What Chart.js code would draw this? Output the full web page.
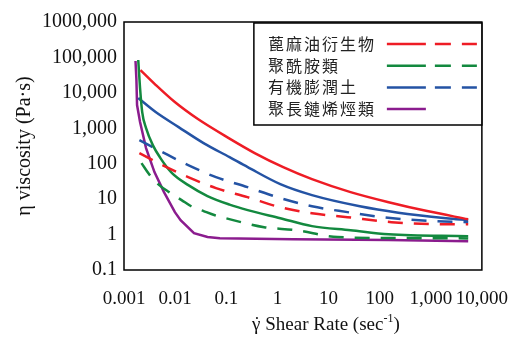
<!DOCTYPE html>
<html>
<head>
<meta charset="utf-8">
<script src="https://cdn.jsdelivr.net/npm/chart.js@4.4.1/dist/chart.umd.min.js"></script>
<style>
  html, body { margin: 0; padding: 0; background: #fff; }
  canvas { display: block; }
</style>
</head>
<body>
<canvas id="chart" width="526" height="339"></canvas>
<script>
// series names (legend) and colours
const seriesNames = ["蓖麻油衍生物", "聚酰胺類", "有機膨潤土", "聚長鏈烯烴類"];
const seriesColors = ["#EE1C25", "#13893F", "#2453A4", "#8B1C8E"];

// shear rate (x) and viscosity (y)
const redSolidX = [0.0021, 0.0042, 0.00986, 0.0279, 0.116, 0.36, 1.3, 4.75, 27, 150, 850, 5400];
const redSolidY = [44000, 16600, 5500, 1820, 512, 200, 80, 36.7, 15.8, 8.2, 4.6, 2.7];
const redDashX = [0.002, 0.0056, 0.018, 0.063, 0.26, 1.14, 4.75, 23.5, 171, 1770, 5400];
const redDashY = [199, 91, 41.8, 20.5, 11.4, 5.9, 4.0, 3.1, 2.24, 1.97, 1.97];

const greenSolidX = [0.0019, 0.00206, 0.00227, 0.0027, 0.00366, 0.00516, 0.0087, 0.0181, 0.0429, 0.116, 0.263, 1.14, 4.75, 27, 150, 5400];
const greenSolidY = [84500, 13700, 2870, 1010, 335, 144, 54, 24.8, 12.2, 7.0, 4.9, 2.9, 1.73, 1.33, 1.02, 0.9];
const greenDashX = [0.0022, 0.0032, 0.0049, 0.0076, 0.0134, 0.0206, 0.036, 0.06, 0.0975, 0.55, 2.3, 15, 150, 5400];
const greenDashY = [104, 47.6, 24.8, 15.8, 9.4, 6.3, 4.6, 3.5, 2.9, 1.62, 1.33, 0.85, 0.8, 0.78];

const blueSolidX = [0.0019, 0.00416, 0.0117, 0.036, 0.116, 0.263, 1.14, 4.75, 41, 232, 2000, 5400];
const blueSolidY = [7130, 2870, 1080, 382, 153, 80, 26.5, 13.0, 6.3, 4.16, 2.9, 2.55];
const blueDashX = [0.002, 0.0056, 0.018, 0.063, 0.26, 1.14, 4.75, 23.5, 111, 1150, 5400];
const blueDashY = [464, 213, 91, 41.8, 21.8, 10.7, 6.3, 4.3, 3.1, 2.4, 2.24];

const purpleX = [0.00168, 0.00175, 0.0018, 0.00206, 0.0027, 0.00394, 0.00606, 0.0099, 0.0128, 0.0234, 0.043, 0.075, 2.0, 150, 5400];
const purpleY = [79000, 23000, 4520, 1500, 276, 58, 15.8, 4.3, 2.55, 1.1, 0.85, 0.79, 0.74, 0.70, 0.65];

// axis ticks
const xTickValues = [0.001, 0.01, 0.1, 1, 10, 100, 1000, 10000];
const xTickLabels = ["0.001", "0.01", "0.1", "1", "10", "100", "1,000", "10,000"];
const yTickValues = [0.1, 1, 10, 100, 1000, 10000, 100000, 1000000];
const yTickLabels = ["0.1", "1", "10", "100", "1,000", "10,000", "100,000", "1000,000"];

const pts = (xs, ys) => xs.map((x, i) => ({ x: x, y: ys[i] }));

function line(data, color, dashed, smooth) {
  return {
    data: data,
    borderColor: color,
    borderWidth: 2.5,
    borderDash: dashed ? [15, 11] : [],
    pointRadius: 0,
    fill: false,
    tension: 0,
    cubicInterpolationMode: smooth ? 'monotone' : 'default'
  };
}

const serif = '"Liberation Serif", "Times New Roman", serif';

const extras = {
  id: 'extras',
  afterDatasetsDraw(chart) {
    const { ctx, chartArea: a } = chart;
    ctx.save();
    // frame round the plot
    ctx.strokeStyle = '#000';
    ctx.lineWidth = 1.5;
    ctx.setLineDash([]);
    ctx.strokeRect(a.left, a.top, a.right - a.left, a.bottom - a.top);

    // legend box, top right
    const bw = 228, bh = 102;
    const bx = a.right - bw, by = a.top + 1;
    ctx.fillStyle = '#fff';
    ctx.fillRect(bx, by, bw, bh);
    ctx.strokeRect(bx, by, bw, bh);
    ctx.font = '16px "Noto Sans CJK TC"';
    ctx.letterSpacing = '2px';
    ctx.textBaseline = 'middle';
    ctx.textAlign = 'left';
    seriesNames.forEach((name, i) => {
      const y = by + 21 + i * 21.7;
      ctx.fillStyle = '#222';
      ctx.fillText(name, bx + 14, y);
      ctx.strokeStyle = seriesColors[i];
      ctx.lineWidth = 2.5;
      ctx.setLineDash([]);
      ctx.beginPath(); ctx.moveTo(bx + 133, y); ctx.lineTo(bx + 172, y); ctx.stroke();
      if (i < 3) {
        ctx.setLineDash([16, 11]);
        ctx.beginPath(); ctx.moveTo(bx + 181, y); ctx.lineTo(bx + 223, y); ctx.stroke();
      }
    });
    ctx.letterSpacing = '0px';
    ctx.setLineDash([]);

    // x axis title: gamma with a dot over it, and a superscript -1
    const g = 'γ', main = ' Shear Rate (sec', sup = '-1', end = ')';
    ctx.fillStyle = '#111';
    ctx.textBaseline = 'alphabetic';
    ctx.textAlign = 'left';
    ctx.font = '19px ' + serif;
    const wg = ctx.measureText(g).width;
    const w1 = ctx.measureText(main).width, w3 = ctx.measureText(end).width;
    ctx.font = '12px ' + serif;
    const w2 = ctx.measureText(sup).width;
    const x = (a.left + a.right) / 2 + 23 - (wg + w1 + w2 + w3) / 2;
    const base = a.bottom + 60;
    ctx.font = '19px ' + serif;
    ctx.fillText(g, x, base);
    ctx.textAlign = 'center';
    ctx.fillText('˙', x + wg / 2 + 0.5, base);
    ctx.textAlign = 'left';
    ctx.fillText(main, x + wg, base);
    ctx.font = '12px ' + serif;
    ctx.fillText(sup, x + wg + w1, base - 8);
    ctx.font = '19px ' + serif;
    ctx.fillText(end, x + wg + w1 + w2, base);
    ctx.restore();
  }
};

new Chart(document.getElementById('chart'), {
  type: 'line',
  data: {
    datasets: [
      line(pts(redSolidX, redSolidY), seriesColors[0], false, true),
      line(pts(redDashX, redDashY), seriesColors[0], true, true),
      line(pts(greenSolidX, greenSolidY), seriesColors[1], false, true),
      line(pts(greenDashX, greenDashY), seriesColors[1], true, true),
      line(pts(blueSolidX, blueSolidY), seriesColors[2], false, true),
      line(pts(blueDashX, blueDashY), seriesColors[2], true, true),
      line(pts(purpleX, purpleY), seriesColors[3], false, false)
    ]
  },
  options: {
    responsive: false,
    animation: false,
    devicePixelRatio: 1,
    layout: { padding: { left: 0, top: 22, right: 29, bottom: 0 } },
    plugins: { legend: { display: false }, tooltip: { enabled: false } },
    scales: {
      x: {
        type: 'logarithmic',
        min: 0.001,
        max: 10000,
        grid: { display: false, drawTicks: false },
        border: { display: false },
        afterBuildTicks: s => { s.ticks = xTickValues.map(v => ({ value: v })); },
        afterFit: s => { s.height = 69; },
        ticks: {
          autoSkip: false, maxRotation: 0, padding: 18,
          color: '#111', font: { family: serif, size: 19 },
          callback: (v, i) => xTickLabels[i]
        }
      },
      y: {
        type: 'logarithmic',
        min: 0.1,
        max: 1000000,
        grid: { display: false, drawTicks: false },
        border: { display: false },
        afterBuildTicks: s => { s.ticks = yTickValues.map(v => ({ value: v })); },
        afterFit: s => { s.width = 124; },
        ticks: {
          autoSkip: false, padding: 7,
          color: '#111', font: { family: serif, size: 20 },
          callback: (v, i) => yTickLabels[i]
        },
        title: {
          display: true, text: 'η viscosity (Pa·s)', color: '#111',
          font: { family: serif, size: 20 }, padding: { top: 13 }
        }
      }
    }
  },
  plugins: [extras]
});
</script>
</body>
</html>
